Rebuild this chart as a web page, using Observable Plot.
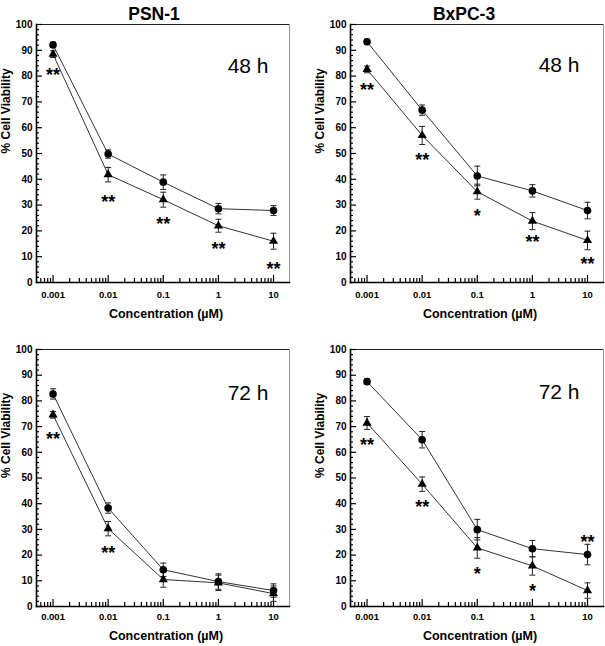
<!DOCTYPE html>
<html><head><meta charset="utf-8">
<script src="https://cdn.jsdelivr.net/npm/d3@7"></script>
<script src="https://cdn.jsdelivr.net/npm/@observablehq/plot@0.6"></script>
<style>
body{margin:0;background:#fff;}
#wrap{position:relative;width:605px;height:646px;overflow:hidden;background:#fff;}
.panel{position:absolute;}
</style></head><body><div id="wrap"></div>
<script>
// ---- data ----
const concentrations = [0.001, 0.01, 0.1, 1, 10];
const xTickLabels = ["0.001", "0.01", "0.1", "1", "10"];
const yTicks = [0, 10, 20, 30, 40, 50, 60, 70, 80, 90, 100];

// PSN-1, 48 h
const psn48Circle = [92.1, 49.8, 38.9, 28.6, 27.9];
const psn48CircleErr = [1.0, 1.6, 2.8, 2.0, 1.9];
const psn48Triangle = [88.5, 41.8, 32.1, 22.0, 16.0];
const psn48TriangleErr = [1.3, 2.8, 2.9, 2.5, 3.1];
const psn48Stars = ["**", "**", "**", "**", "**"];
const psn48StarY = [82.0, 32.5, 24.0, 14.4, 6.6];

// BxPC-3, 48 h
const bx48Circle = [93.3, 66.8, 41.3, 35.5, 27.9];
const bx48CircleErr = [1.0, 2.0, 3.8, 2.4, 3.2];
const bx48Triangle = [82.6, 57.0, 35.2, 23.8, 16.3];
const bx48TriangleErr = [1.3, 3.5, 2.9, 3.3, 3.6];
const bx48Stars = ["**", "**", "*", "**", "**"];
const bx48StarY = [76.2, 48.9, 27.3, 17.2, 8.8];

// PSN-1, 72 h
const psn72Circle = [82.7, 38.3, 14.3, 9.7, 6.2];
const psn72CircleErr = [2.0, 2.0, 2.6, 3.0, 2.6];
const psn72Triangle = [74.6, 30.3, 10.5, 9.2, 5.0];
const psn72TriangleErr = [1.3, 2.8, 3.0, 3.0, 3.0];
const psn72Stars = ["**", "**"];
const psn72StarConc = [0.001, 0.01];
const psn72StarY = [66.5, 22.4];

// BxPC-3, 72 h
const bx72Circle = [87.5, 64.9, 29.9, 22.5, 20.2];
const bx72CircleErr = [1.0, 3.2, 4.0, 3.2, 4.0];
const bx72Triangle = [71.4, 47.6, 22.8, 15.8, 6.2];
const bx72TriangleErr = [2.5, 2.8, 4.0, 3.6, 3.0];
const bx72Stars = ["**", "**", "*", "*", "**"];
const bx72StarY = [64.3, 40.2, 14.3, 7.5, 26.5];

// ---- helpers ----
const regular = "'Liberation Sans',Arial,sans-serif";

const minorX = [];
for (const d of [0.0001, 0.001, 0.01, 0.1, 1]) for (let k = 2; k <= 9; k++) { const v = d * k; if (v > 0.0005 && v < 10) minorX.push(+v.toPrecision(3)); }
const minorY = d3.range(0, 101, 2).filter(v => v % 10 !== 0);

const capSymbol = {draw(ctx, size) { const r = Math.sqrt(size / Math.PI); ctx.moveTo(-r, 0); ctx.lineTo(r, 0); }};

function rows(values, errs, xs) {
  return values.map((v, i) => ({x: (xs || concentrations)[i], y: v, lo: v - errs[i], hi: v + errs[i]}));
}

function panel(cfg) {
  const circ = rows(cfg.circle, cfg.circleErr);
  const tri = rows(cfg.triangle, cfg.triangleErr);
  const stars = cfg.stars.map((s, i) => ({x: (cfg.starConc || concentrations)[i], y: cfg.starY[i], s}));
  const marks = [
    // frame
    Plot.frame({anchor: "top", stroke: "#222", strokeWidth: 1}),
    Plot.frame({anchor: "right", stroke: "#999", strokeWidth: 1}),
    Plot.frame({anchor: "left", stroke: "#000", strokeWidth: 1.6}),
    Plot.frame({anchor: "bottom", stroke: "#000", strokeWidth: 1.6}),
    // y ticks (inward)
    Plot.axisY({ticks: yTicks, tickSize: -6, text: null, label: null, strokeWidth: 1.2}),
    Plot.axisY({ticks: minorY, tickSize: -3, text: null, label: null, strokeWidth: 1.2}),
    Plot.axisY({ticks: yTicks, tickSize: 0, tickPadding: 4, label: null, ariaLabel: "narrow", fontFamily: regular, fontWeight: "bold", fontSize: 10, fill: "#000"}),
    // x ticks (inward)
    Plot.axisX({ticks: concentrations, tickSize: -7, text: null, label: null, strokeWidth: 1.2}),
    Plot.axisX({ticks: minorX, tickSize: -4, text: null, label: null, strokeWidth: 1.2}),
    Plot.axisX({ticks: concentrations, tickSize: 0, tickPadding: cfg.xPad, label: null, ariaLabel: "narrow", tickFormat: d => xTickLabels[concentrations.indexOf(d)], fontFamily: regular, fontWeight: "bold", fontSize: 9.5, fill: "#000"}),
    // axis titles
    Plot.text(["% Cell Viability"], {frameAnchor: "left", lineAnchor: "middle", rotate: -90, dx: -30, fontFamily: regular, fontWeight: "bold", fontSize: 12, fill: "#000"}),
    Plot.text(["Concentration (\u00b5M)"], {frameAnchor: "bottom", lineAnchor: "middle", dy: cfg.xTitleDy, dx: 3, ariaLabel: "narrow", fontFamily: regular, fontWeight: "bold", fontSize: 12.5, fill: "#000"}),
    // lines
    Plot.line(circ, {x: "x", y: "y", stroke: "#333", strokeWidth: 1}),
    Plot.line(tri, {x: "x", y: "y", stroke: "#333", strokeWidth: 1}),
    // error bars
    Plot.ruleX(circ, {x: "x", y1: "lo", y2: "hi", stroke: "#222", strokeWidth: 1}),
    Plot.ruleX(tri, {x: "x", y1: "lo", y2: "hi", stroke: "#222", strokeWidth: 1}),
    Plot.dot(circ, {x: "x", y: "lo", symbol: capSymbol, r: 3, stroke: "#222", strokeWidth: 1}),
    Plot.dot(circ, {x: "x", y: "hi", symbol: capSymbol, r: 3, stroke: "#222", strokeWidth: 1}),
    Plot.dot(tri, {x: "x", y: "lo", symbol: capSymbol, r: 3, stroke: "#222", strokeWidth: 1}),
    Plot.dot(tri, {x: "x", y: "hi", symbol: capSymbol, r: 3, stroke: "#222", strokeWidth: 1}),
    // markers
    Plot.dot(circ, {x: "x", y: "y", symbol: "circle", r: 3.8, fill: "#000", stroke: "none"}),
    Plot.dot(tri, {x: "x", y: "y", symbol: "triangle", r: 3.4, fill: "#000", stroke: "none"}),
    // significance
    Plot.text(stars, {x: "x", y: "y", text: "s", fontFamily: regular, fontWeight: "bold", fontSize: 18, dy: 4, fill: "#000"}),
    // time label
    Plot.text([cfg.time], {frameAnchor: "top-right", lineAnchor: "middle", textAnchor: "end", dx: -cfg.timeDx, dy: cfg.timeDy, fontFamily: regular, fontSize: 21, fill: "#000"})
  ];
  if (cfg.title) marks.push(Plot.text([cfg.title], {frameAnchor: "top", lineAnchor: "middle", dy: -10.5, dx: cfg.titleDx, ariaLabel: "narrow", fontFamily: regular, fontWeight: "bold", fontSize: 17.5, fill: "#000"}));
  const chart = Plot.plot({
    width: cfg.width, height: cfg.height,
    marginLeft: cfg.mL, marginRight: cfg.mR, marginTop: cfg.mT, marginBottom: cfg.mB,
    style: {background: "#fff", overflow: "visible"},
    x: {type: "log", domain: [Math.pow(10, -3.3), Math.pow(10, 1.29)], axis: null},
    y: {domain: [0, 100], axis: null},
    marks
  });
  const div = document.createElement("div");
  div.className = "panel";
  div.style.left = cfg.left + "px";
  div.style.top = cfg.top + "px";
  div.appendChild(chart);
  document.getElementById("wrap").appendChild(div);
  // condense the narrow-font texts (Arial Narrow look)
  chart.querySelectorAll('g[aria-label="narrow"] text').forEach(t => {
    const len = t.getComputedTextLength();
    if (len > 0) {
      t.setAttribute("textLength", (len * 0.8).toFixed(2));
      t.setAttribute("lengthAdjust", "spacingAndGlyphs");
    }
  });
}

panel({title: "PSN-1", time: "48 h", circle: psn48Circle, circleErr: psn48CircleErr, triangle: psn48Triangle, triangleErr: psn48TriangleErr, stars: psn48Stars, starY: psn48StarY,
  left: 0, top: 0, width: 302, height: 323, mL: 36, mR: 13, mT: 24, mB: 41, xPad: 9, xTitleDy: 31, timeDx: 21, timeDy: 42, titleDx: -9});
panel({title: "BxPC-3", time: "48 h", circle: bx48Circle, circleErr: bx48CircleErr, triangle: bx48Triangle, triangleErr: bx48TriangleErr, stars: bx48Stars, starY: bx48StarY,
  left: 302, top: 0, width: 303, height: 323, mL: 48, mR: 2, mT: 24, mB: 41, xPad: 9, xTitleDy: 31, timeDx: 24, timeDy: 41, titleDx: -13});
panel({time: "72 h", circle: psn72Circle, circleErr: psn72CircleErr, triangle: psn72Triangle, triangleErr: psn72TriangleErr, stars: psn72Stars, starConc: psn72StarConc, starY: psn72StarY,
  left: 0, top: 323, width: 302, height: 323, mL: 36, mR: 13, mT: 26, mB: 40, xPad: 7, xTitleDy: 29, timeDx: 21, timeDy: 44});
panel({time: "72 h", circle: bx72Circle, circleErr: bx72CircleErr, triangle: bx72Triangle, triangleErr: bx72TriangleErr, stars: bx72Stars, starY: bx72StarY,
  left: 302, top: 323, width: 303, height: 323, mL: 48, mR: 2, mT: 26, mB: 40, xPad: 7, xTitleDy: 29, timeDx: 24, timeDy: 43});
</script></body></html>
